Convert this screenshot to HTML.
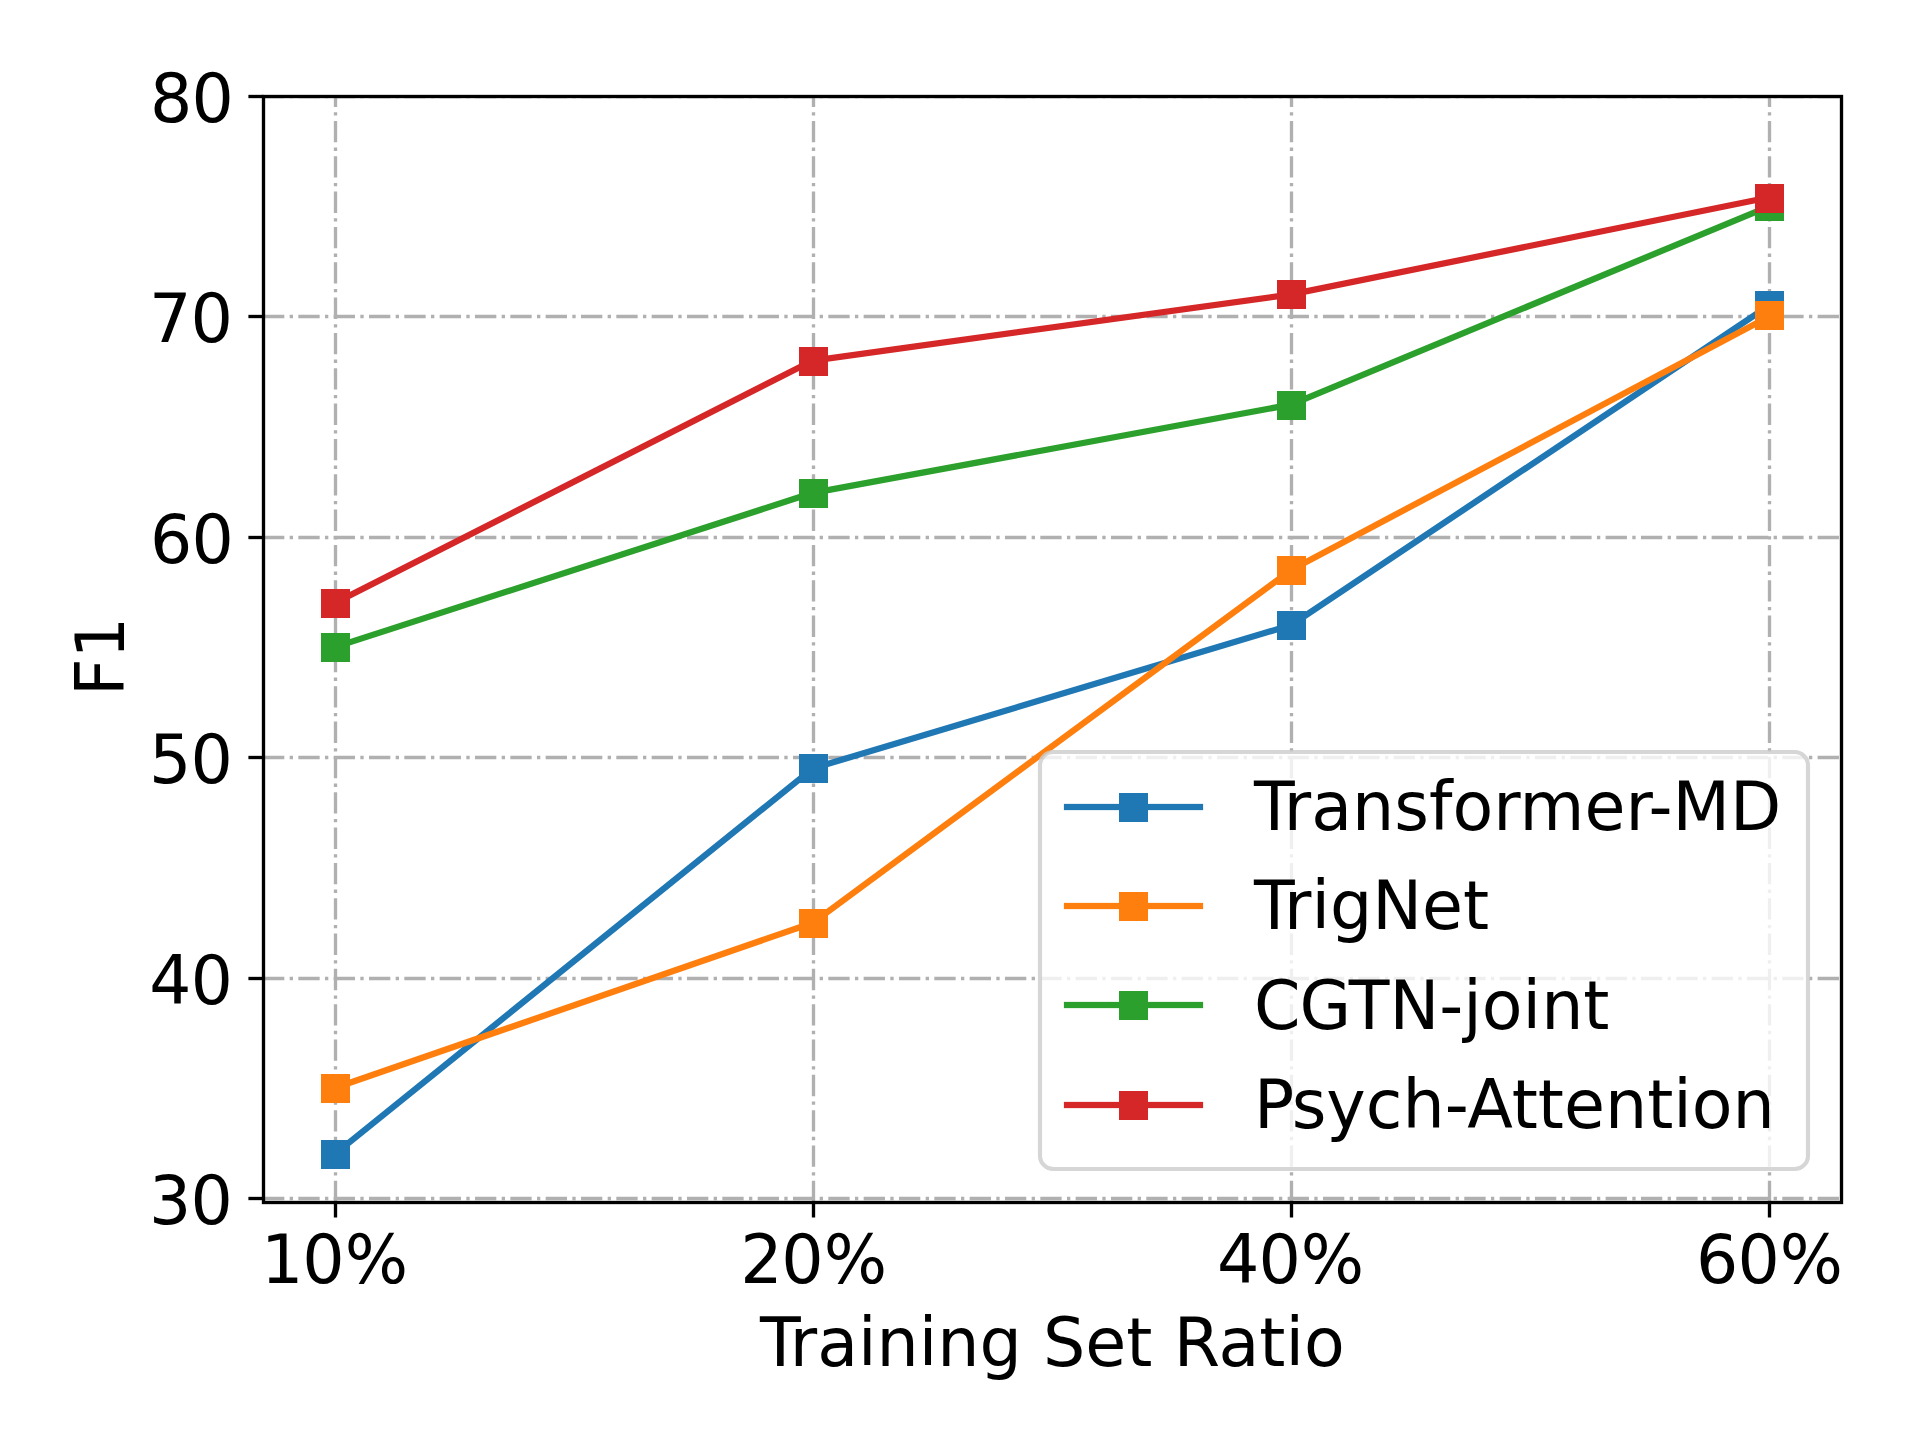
<!DOCTYPE html>
<html lang="en">
<head>
<meta charset="utf-8">
<title>F1 vs Training Set Ratio</title>
<style>
html,body{margin:0;padding:0;background:#fff;}
body{width:1920px;height:1440px;overflow:hidden;}
svg{display:block;}
text{font-family:"DejaVu Sans","Liberation Sans",sans-serif;font-size:66.6667px;fill:#000;}
.g{stroke:#b0b0b0;stroke-width:3.333;stroke-dasharray:21.333 5.333 3.333 5.333;fill:none;}
.k{stroke:#000;stroke-width:3.333;fill:none;}
.l{fill:none;stroke-width:6.25;stroke-linejoin:round;stroke-linecap:square;}
</style>
</head>
<body>
<svg width="1920" height="1440" viewBox="0 0 1920 1440">
<rect x="0" y="0" width="1920" height="1440" fill="#ffffff"/>
<defs><clipPath id="ax"><rect x="263" y="96" width="1578" height="1106.4"/></clipPath></defs>
<!-- grid -->
<g class="g" clip-path="url(#ax)">
<path d="M335.5 1202.2 V96"/>
<path d="M813.5 1202.2 V96"/>
<path d="M1291.5 1202.2 V96"/>
<path d="M1769.5 1202.2 V96"/>
<path d="M263 96.5 H1841.5"/>
<path d="M263 316.5 H1841.5"/>
<path d="M263 537.5 H1841.5"/>
<path d="M263 757.5 H1841.5"/>
<path d="M263 978.5 H1841.5"/>
<path d="M263 1198.5 H1841.5"/>
</g>
<!-- data series -->
<g fill="#1f77b4"><polyline class="l" stroke="#1f77b4" points="334.73,1154.16 812.91,768.37 1291.09,625.08 1769.27,305.43"/><rect x="321" y="1140" width="29" height="29"/><rect x="799" y="754" width="29" height="29"/><rect x="1277" y="611" width="29" height="29"/><rect x="1755" y="291" width="29" height="29"/></g>
<g fill="#ff7f0e"><polyline class="l" stroke="#ff7f0e" points="334.73,1088.03 812.91,922.69 1291.09,569.97 1769.27,316.45"/><rect x="321" y="1074" width="29" height="29"/><rect x="799" y="909" width="29" height="29"/><rect x="1277" y="556" width="29" height="29"/><rect x="1755" y="301" width="29" height="29"/></g>
<g fill="#2ca02c"><polyline class="l" stroke="#2ca02c" points="334.73,647.12 812.91,492.81 1291.09,404.63 1769.27,206.23"/><rect x="321" y="633" width="29" height="29"/><rect x="799" y="479" width="29" height="29"/><rect x="1277" y="391" width="29" height="29"/><rect x="1755" y="192" width="29" height="29"/></g>
<g fill="#d62728"><polyline class="l" stroke="#d62728" points="334.73,603.04 812.91,360.54 1291.09,294.41 1769.27,197.41"/><rect x="321" y="589" width="29" height="29"/><rect x="799" y="347" width="29" height="29"/><rect x="1277" y="280" width="29" height="29"/><rect x="1755" y="184" width="29" height="29"/></g>
<!-- ticks and spines -->
<g class="k">
<path d="M335.5 1202.5 V1217.5"/><path d="M813.5 1202.5 V1217.5"/><path d="M1291.5 1202.5 V1217.5"/><path d="M1769.5 1202.5 V1217.5"/>
<path d="M263.5 96.5 H248.4"/><path d="M263.5 316.5 H248.4"/><path d="M263.5 537.5 H248.4"/><path d="M263.5 757.5 H248.4"/><path d="M263.5 978.5 H248.4"/><path d="M263.5 1198.5 H248.4"/>
<rect x="263.5" y="96.5" width="1578" height="1106"/>
</g>
<!-- tick labels and axis labels -->
<text transform="translate(149.1 122) scale(0.998 1.025)" dx="1 -1">80</text>
<text transform="translate(148.1 342) scale(1.002 1.01)" dx="1 -1">70</text>
<text transform="translate(149.1 563) scale(0.998 1.017)" dx="1 -1">60</text>
<text transform="translate(148.1 783) scale(1 1.015)" dx="1 -1">50</text>
<text transform="translate(148.6 1004) scale(0.993 1.022)" dx="0.75 -0.75">40</text>
<text transform="translate(148.1 1224) scale(0.998 1.017)" dx="1 -1">30</text>
<text transform="translate(259.95 1283) scale(1 1.02)" dx="1 -1">10%</text>
<text transform="translate(738.9 1283) scale(1 1.022)" dx="1.25 -1.25">20%</text>
<text transform="translate(1216 1283) scale(1 1.01)" dx="1 -1">40%</text>
<text transform="translate(1695.3 1283) scale(0.997 1.025)" dx="0.75 -0.75">60%</text>
<text transform="translate(758.9 1366.3) scale(1 1.012)" dx="1 -1">Training Set Ratio</text>
<text transform="translate(123.8 695.55) rotate(-90) scale(0.972 1.02)" dx="-0.25 0.25">F1</text>
<!-- legend -->
<rect x="1040" y="752" width="768" height="417" rx="13.33" ry="13.33" fill="#ffffff" fill-opacity="0.8" stroke="#cccccc" stroke-opacity="0.8" stroke-width="4.167"/>
<g fill="#1f77b4"><rect x="1063.9" y="803.875" width="139.2" height="6.25"/><rect x="1119" y="793" width="29" height="29"/></g>
<text transform="translate(1252.85 829.5) scale(1 1.015)" dx="1.25 -1.25">Transformer-MD</text>
<g fill="#ff7f0e"><rect x="1063.9" y="902.875" width="139.2" height="6.25"/><rect x="1119" y="892" width="29" height="29"/></g>
<text transform="translate(1253.1 928.8) scale(1 1.015)" dx="1 -1">TrigNet</text>
<g fill="#2ca02c"><rect x="1063.9" y="1001.88" width="139.2" height="6.25"/><rect x="1119" y="991" width="29" height="29"/></g>
<text transform="translate(1252.85 1029.2) scale(1 1.015)" dx="1.25 -1.25">CGTN-joint</text>
<g fill="#d62728"><rect x="1063.9" y="1101.88" width="139.2" height="6.25"/><rect x="1119" y="1091" width="29" height="29"/></g>
<text transform="translate(1252.6 1127.5) scale(1 1.012)" dx="1.5 -1.5">Psych-Attention</text>
</svg>
</body>
</html>
